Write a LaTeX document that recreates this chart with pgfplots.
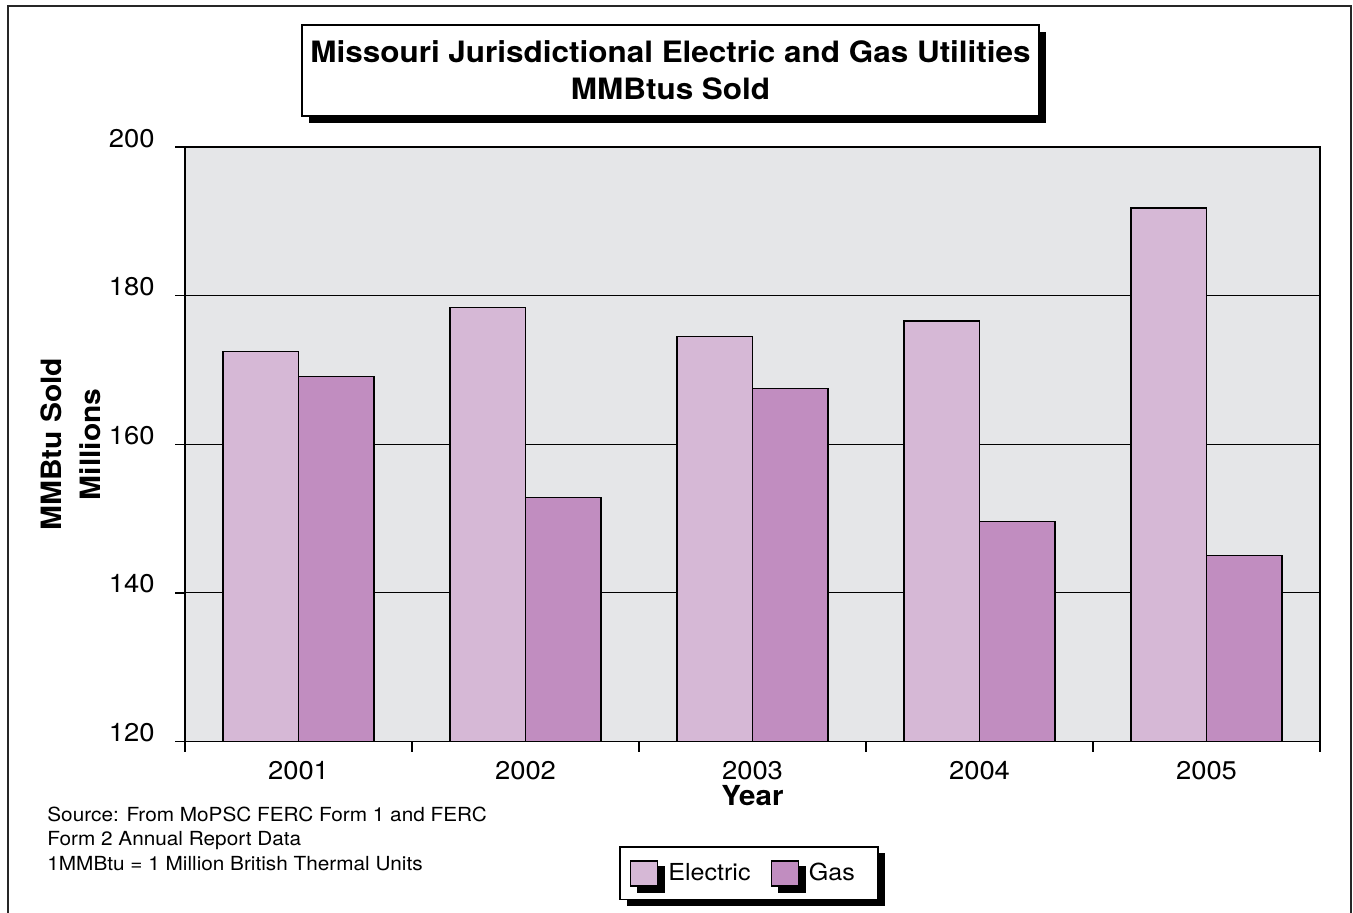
\documentclass[border=0pt]{standalone}
\usepackage{fontspec}
\setmainfont{TeX Gyre Heros}[FakeStretch=1.07]
\usepackage{pgfplots}
\pgfplotsset{compat=1.18}
\usetikzlibrary{shadows}
\definecolor{bggray}{HTML}{E5E6E8}
\definecolor{elec}{HTML}{D6B8D6}
\definecolor{gas}{HTML}{C18DC0}
\pgfplotsset{barlegend/.style={legend image code/.code={\draw[##1, line width=0.7pt] (0pt,-6.25pt) rectangle (13.5pt,6.25pt); \path (18.5pt,0pt);}}}
\begin{document}
\begin{tikzpicture}
\useasboundingbox (0,0) rectangle (676.5pt,456pt);
\fill[white] (0,0) rectangle (676.5pt,456pt);
\draw[line width=1pt, black!85] (4pt,-2pt) rectangle (675.5pt,453pt);
\begin{axis}[
  at={(92.5pt,85.25pt)}, anchor=south west,
  scale only axis, width=567.5pt, height=297.25pt,
  xmin=0.5, xmax=5.5, ymin=120, ymax=200,
  xtick={0.5,1.5,2.5,3.5,4.5,5.5},
  xticklabels={2001,2002,2003,2004,2005},
  x tick label as interval,
  ytick={120,140,160,180,200},
  xtick pos=bottom, ytick pos=left,
  tick align=outside, major tick length=5pt,
  tick style={black, line width=0.7pt},
  axis line style={black, line width=0.7pt},
  axis background/.style={fill=bggray},
  ymajorgrids, grid style={black, line width=0.6pt},
  /pgf/number format/assume math mode=true,
  ticklabel style={font=\fontsize{12.8}{15}\selectfont},
  xticklabel style={anchor=base, inner sep=0pt, yshift=-13.75pt},
  yticklabel style={anchor=base east, inner sep=0pt, xshift=-10pt},
  xlabel={Year},
  xlabel style={at={(axis description cs:0.5,0)}, anchor=base, inner sep=0pt, yshift=-32pt, font=\fontsize{13.8}{16}\selectfont\bfseries},
  ylabel={MMBtu Sold\\Millions},
  ylabel style={at={(axis description cs:-0.1009,0.5)}, anchor=center, align=center, font=\fontsize{14}{19.5}\selectfont\bfseries},
  title={Missouri Jurisdictional Electric and Gas Utilities\\MMBtus Sold},
  title style={at={(axis description cs:0.4278,1.1087)}, anchor=center, draw=black, line width=0.8pt, fill=white, minimum width=368.5pt, minimum height=45.65pt, align=center, inner sep=0pt, font=\fontsize{14.7}{18.35}\selectfont\bfseries, drop shadow={shadow xshift=3.5pt, shadow yshift=-3.5pt, fill=black, opacity=1}},
  ybar=0pt, bar width=0.3333,
  legend columns=2,
  legend style={at={(axis description cs:0.4969,-0.222)}, anchor=center, draw=black, line width=0.8pt, fill=white, inner xsep=5pt, inner ysep=6.5pt, font=\fontsize{11.7}{14}\selectfont, /tikz/every even column/.append style={column sep=10pt}, nodes={inner sep=0pt}, drop shadow={shadow xshift=3.5pt, shadow yshift=-3pt, fill=black, opacity=1}},
]
\addplot[fill=elec, draw=black, line width=0.7pt, barlegend]
  coordinates {(1,172.5) (2,178.4) (3,174.5) (4,176.6) (5,191.8)};
\addplot[fill=gas, draw=black, line width=0.7pt, barlegend]
  coordinates {(1,169.1) (2,152.8) (3,167.5) (4,149.6) (5,145.0)};
\legend{Electric,\makebox[29.5pt][l]{Gas}}
\end{axis}
\node[anchor=base west, inner sep=0pt, font=\fontsize{9.7}{12}\selectfont] at (23.5pt,45.5pt) {Source: From MoPSC FERC Form 1 and FERC};
\node[anchor=base west, inner sep=0pt, font=\fontsize{9.7}{12}\selectfont] at (23.5pt,33.25pt) {Form 2 Annual Report Data};
\node[anchor=base west, inner sep=0pt, font=\fontsize{9.7}{12}\selectfont] at (23.5pt,21pt) {1MMBtu = 1 Million British Thermal Units};
\end{tikzpicture}
\end{document}
